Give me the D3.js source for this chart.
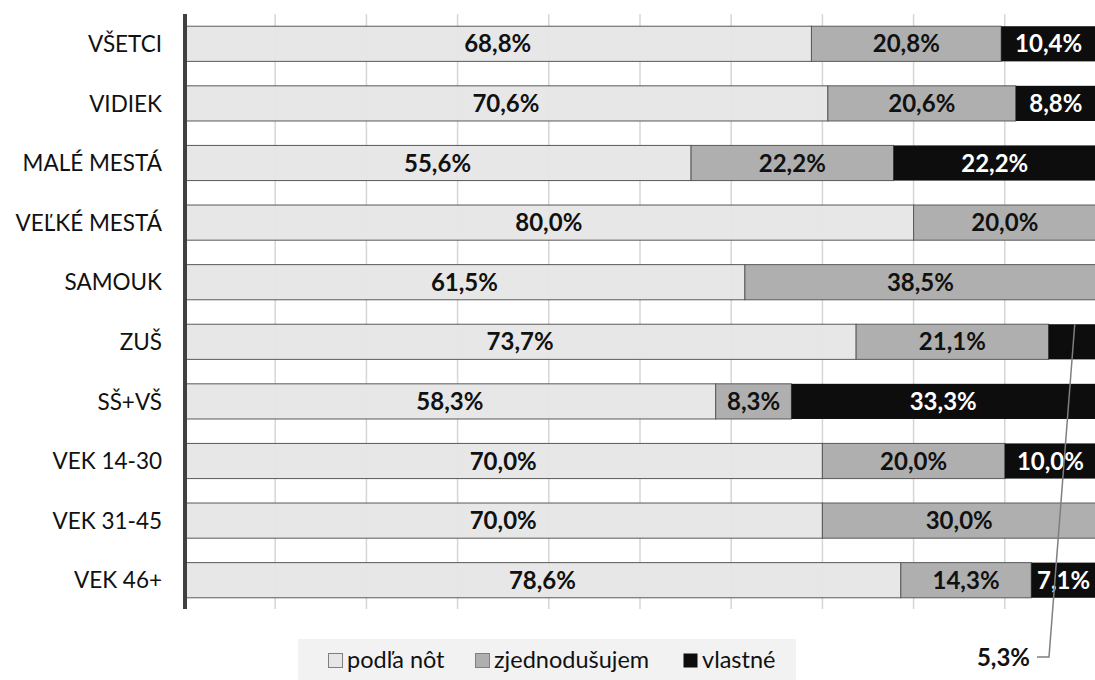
<!DOCTYPE html>
<html><head><meta charset="utf-8">
<script src="https://cdn.jsdelivr.net/npm/d3@7"></script>
<style>body{margin:0;background:#fff}svg{display:block}</style>
</head><body>
<svg id="c" width="1095" height="680"></svg>
<script>
const categories = ["VŠETCI","VIDIEK","MALÉ MESTÁ","VEĽKÉ MESTÁ","SAMOUK","ZUŠ","SŠ+VŠ","VEK 14-30","VEK 31-45","VEK 46+"];
const seriesNames = ["podľa nôt","zjednodušujem","vlastné"];
const podlaNot = [68.8,70.6,55.6,80.0,61.5,73.7,58.3,70.0,70.0,78.6];
const zjednodusujem = [20.8,20.6,22.2,20.0,38.5,21.1,8.3,20.0,30.0,14.3];
const vlastne = [10.4,8.8,22.2,0,0,5.3,33.3,10.0,0,7.1];
const colors = ["#e6e6e6","#afafaf","#0d0d0d"];
const textColors = ["#111","#111","#fff"];
const ticks = [0,10,20,30,40,50,60,70,80,90,100];

const svg = d3.select("#c");
const x = d3.scaleLinear().domain([0,100]).range([184,1096]);
const y = d3.scaleBand().domain(categories).range([14,610]).paddingInner(0.41).paddingOuter(0.205);
const font = "Lato, 'Open Sans', sans-serif";

svg.append("g").selectAll("line").data(ticks.slice(1)).join("line")
  .attr("x1",d=>x(d)).attr("x2",d=>x(d)).attr("y1",14).attr("y2",609)
  .attr("stroke","#d6d6d6").attr("stroke-width",1.5);

const rows = categories.map((c,i)=>{
  const vals=[podlaNot[i],zjednodusujem[i],vlastne[i]];
  let acc=0;
  return vals.map((v,k)=>{const s={cat:c,k,v,x0:acc,x1:acc+v};acc+=v;return s;});
});
const segs = rows.flat().filter(d=>d.v>0);

svg.append("g").selectAll("rect").data(segs).join("rect")
  .attr("x",d=>x(d.x0)).attr("width",d=>x(d.x1)-x(d.x0))
  .attr("y",d=>y(d.cat)).attr("height",y.bandwidth())
  .attr("fill",d=>colors[d.k]).attr("fill-opacity",d=>d.k===0?0.94:1)
  .attr("stroke",d=>d.k===2?"none":"#5a5a5a").attr("stroke-width",1);

const fmt = v => v.toFixed(1).replace(".",",")+"%";
svg.append("g").selectAll("text").data(segs.filter(d=>!(d.cat==="ZUŠ"&&d.k===2))).join("text")
  .attr("x",d=>(x(d.x0)+x(Math.min(d.x1,100)))/2)
  .attr("y",d=>y(d.cat)+y.bandwidth()/2)
  .attr("dy","0.36em").attr("text-anchor","middle")
  .attr("font-family",font).attr("font-weight","bold").attr("font-size",24)
  .attr("fill",d=>textColors[d.k]).text(d=>fmt(d.v));

const zi = categories.indexOf("ZUŠ");
const zs = segs.find(d=>d.cat==="ZUŠ"&&d.k===2);
const zx = (x(zs.x0)+x(zs.x1))/2+2;
svg.append("path")
  .attr("d",`M1037,657 L1049,657 L${zx},${y("ZUŠ")}`)
  .attr("fill","none").attr("stroke","#7f7f7f").attr("stroke-width",1.5);
svg.append("text").attr("x",1030).attr("y",657).attr("dy","0.36em").attr("text-anchor","end")
  .attr("font-family",font).attr("font-weight","bold").attr("font-size",24).attr("fill","#111")
  .text(fmt(vlastne[zi]));

svg.append("g").selectAll("text").data(categories).join("text")
  .attr("x",162).attr("y",d=>y(d)+y.bandwidth()/2).attr("dy","0.36em")
  .attr("text-anchor","end").attr("font-family",font).attr("font-size",22.5).attr("fill","#111")
  .text(d=>d);

svg.append("line").attr("x1",185).attr("x2",185).attr("y1",14).attr("y2",609)
  .attr("stroke","#404040").attr("stroke-width",4);

const lg = svg.append("g");
lg.append("rect").attr("x",298).attr("y",639).attr("width",498).attr("height",45).attr("fill","#f2f2f2");
const lx = [328,475,683];
seriesNames.forEach((n,i)=>{
  lg.append("rect").attr("x",lx[i]+0.5).attr("y",653.5).attr("width",14).attr("height",14)
    .attr("fill",colors[i]).attr("stroke",i===2?"none":"#7f7f7f");
  lg.append("text").attr("x",lx[i]+19).attr("y",660).attr("dy","0.36em")
    .attr("font-family",font).attr("font-size",23.5).attr("fill","#111").text(n);
});
</script>
</body></html>
